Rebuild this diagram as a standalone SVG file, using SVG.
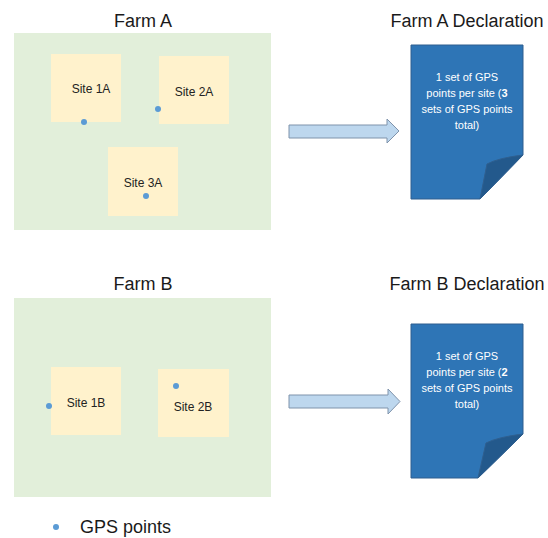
<svg xmlns="http://www.w3.org/2000/svg" width="548" height="538" viewBox="0 0 548 538">
  <defs>
    <style>
      .title { font-family: "Liberation Sans", Arial, sans-serif; font-size: 18px; fill: #1a1a1a; text-anchor: middle; }
      .farm { fill: #e2efda; }
      .site { fill: #fff2cc; }
      .site-label { font-family: "Liberation Sans", Arial, sans-serif; font-size: 12px; fill: #222; text-anchor: middle; }
      .gps { fill: #5b9bd5; }
      .arrow { fill: #bdd7ee; stroke: #7f93ab; stroke-width: 1; }
      .doc { fill: #2e75b6; stroke: #2f5f8f; stroke-width: 1; }
      .fold { fill: #23598c; stroke: #2f5f8f; stroke-width: 1; }
      .doc-text { font-family: "Liberation Sans", Arial, sans-serif; font-size: 11px; fill: #ffffff; text-anchor: middle; }
      .legend { font-family: "Liberation Sans", Arial, sans-serif; font-size: 18px; fill: #1a1a1a; }
    </style>
  </defs>

  <!-- Farm A -->
  <g id="farm-a">
    <rect class="farm" x="14" y="33" width="257" height="197"/>
    <text class="title" x="143" y="27">Farm A</text>
  </g>
  <g id="site-1a">
    <rect class="site" x="51" y="54" width="70" height="68"/>
    <text class="site-label" x="91" y="93">Site 1A</text>
  </g>
  <g id="site-2a">
    <rect class="site" x="159" y="56" width="70" height="68"/>
    <text class="site-label" x="194" y="96">Site 2A</text>
  </g>
  <g id="site-3a">
    <rect class="site" x="108" y="147" width="70" height="69"/>
    <text class="site-label" x="143" y="187">Site 3A</text>
  </g>
  <g id="gps-a">
    <circle class="gps" cx="84" cy="122" r="3"/>
    <circle class="gps" cx="158" cy="109" r="3"/>
    <circle class="gps" cx="146" cy="196" r="3"/>
  </g>

  <!-- Farm B -->
  <g id="farm-b">
    <rect class="farm" x="14" y="298" width="257" height="199"/>
    <text class="title" x="143" y="290">Farm B</text>
  </g>
  <g id="site-1b">
    <rect class="site" x="51" y="367" width="70" height="68"/>
    <text class="site-label" x="86" y="407">Site 1B</text>
  </g>
  <g id="site-2b">
    <rect class="site" x="158" y="369" width="71" height="68"/>
    <text class="site-label" x="193" y="411">Site 2B</text>
  </g>
  <g id="gps-b">
    <circle class="gps" cx="49" cy="406" r="3"/>
    <circle class="gps" cx="176" cy="386" r="3"/>
  </g>

  <!-- Declarations -->
  <g id="decl-a">
    <text class="title" x="467" y="27">Farm A Declaration</text>
    <path class="doc" d="M411,45 H523 V155 L480,199 H411 Z"/>
    <path class="fold" d="M523,155 Q498,158 487,164 L480,199 Z"/>
    <text class="doc-text" x="467" y="81">1 set of GPS</text>
    <text class="doc-text" x="467" y="97">points per site (<tspan font-weight="bold">3</tspan></text>
    <text class="doc-text" x="467" y="113">sets of GPS points</text>
    <text class="doc-text" x="467" y="129">total)</text>
  </g>
  <g id="decl-b">
    <text class="title" x="467" y="290">Farm B Declaration</text>
    <path class="doc" d="M411,324 H523 V434 L478,478 H411 Z"/>
    <path class="fold" d="M523,434 Q498,437 486,443 L478,478 Z"/>
    <text class="doc-text" x="467" y="360">1 set of GPS</text>
    <text class="doc-text" x="467" y="376">points per site (<tspan font-weight="bold">2</tspan></text>
    <text class="doc-text" x="467" y="392">sets of GPS points</text>
    <text class="doc-text" x="467" y="408">total)</text>
  </g>

  <!-- Connectors -->
  <g id="connectors">
    <path class="arrow" d="M289,125 H387 V119 L399,131 L387,143 V138 H289 Z"/>
    <path class="arrow" d="M289,395 H388 V389 L400,401.5 L388,414 V408 H289 Z"/>
  </g>

  <!-- Legend -->
  <g id="legend">
    <circle class="gps" cx="56" cy="527" r="3"/>
    <text class="legend" x="80" y="533">GPS points</text>
  </g>
</svg>
